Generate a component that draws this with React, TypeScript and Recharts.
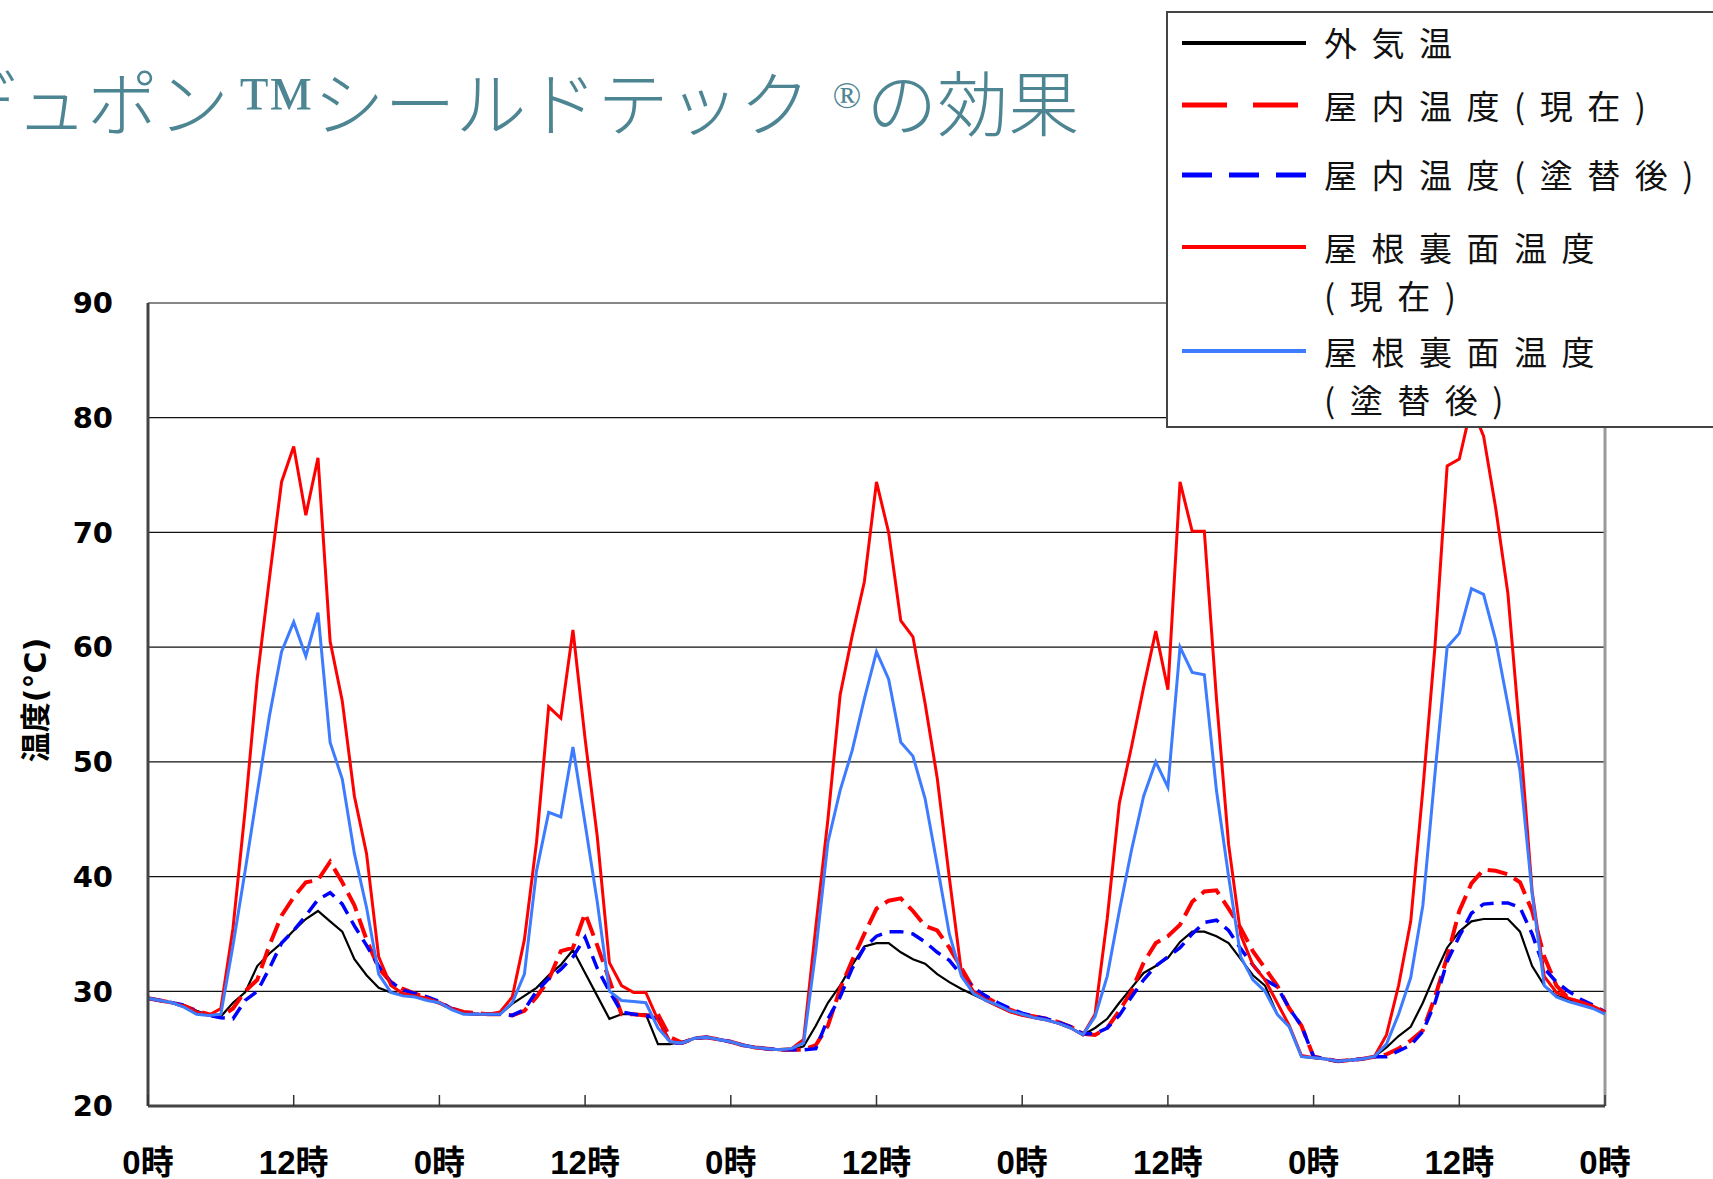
import { LineChart, Line, XAxis, YAxis, CartesianGrid, ReferenceLine } from "recharts";

// title pieces: the trade marks are set in a serif face like the slide
const TITLE_HEAD = "デュポン";
const TITLE_TM = "™";
const TITLE_MID = "シールドテック";
const TITLE_R = "®";
const TITLE_TAIL = "の効果";

// hourly readings over 5 days (0h .. 120h)
const HOURS = Array.from({ length: 121 }, (_, i) => i);

const OUTSIDE = [
  29.4, 29.2, 29.0, 28.8, 28.3, 27.9, 27.8, 29.0, 29.9, 32.2, 33.3, 34.2, 35.3, 36.3, 37.0, 36.1, 35.2, 32.8, 31.4, 30.3,
  29.9, 29.7, 29.5, 29.3, 29.0, 28.5, 28.1, 28.0, 28.0, 28.0, 28.9, 29.6, 30.3, 31.4, 32.3, 33.6, 31.6, 29.6, 27.6, 28.0,
  28.0, 28.0, 25.4, 25.4, 25.6, 25.9, 26.0, 25.8, 25.6, 25.3, 25.1, 25.0, 24.9, 24.9, 25.2, 27.0, 29.0, 30.5, 32.3, 33.9,
  34.2, 34.2, 33.4, 32.8, 32.4, 31.5, 30.8, 30.2, 29.7, 29.2, 28.7, 28.2, 27.9, 27.7, 27.5, 27.2, 26.8, 26.2, 26.8, 27.6,
  29.0, 30.3, 31.6, 32.2, 32.9, 34.3, 35.2, 35.2, 34.8, 34.2, 32.8, 31.4, 30.5, 28.0, 26.9, 24.3, 24.2, 24.1, 23.9, 24.0,
  24.1, 24.3, 25.1, 26.1, 26.9, 29.0, 31.5, 33.8, 35.2, 36.1, 36.3, 36.3, 36.3, 35.2, 32.2, 30.5, 29.6, 29.3, 29.0, 28.7,
  28.2,
];

const INDOOR_NOW = [
  29.4, 29.2, 29.0, 28.7, 28.3, 28.0, 27.8, 28.5, 30.0, 31.0, 34.0, 36.6, 38.2, 39.5, 39.7, 41.3, 39.5, 37.5, 34.5, 32.0,
  30.8, 30.2, 29.8, 29.4, 29.0, 28.5, 28.2, 28.1, 28.0, 28.0, 27.9, 28.3, 29.5, 31.0, 33.5, 33.8, 36.8, 34.0, 31.0, 28.0,
  28.0, 27.9, 28.0, 26.0, 25.5, 25.9, 26.0, 25.8, 25.6, 25.3, 25.1, 25.0, 24.9, 24.9, 24.9, 25.3, 27.0, 30.2, 32.7, 35.0,
  37.2, 37.9, 38.1, 37.0, 35.7, 35.3, 33.8, 32.0, 30.2, 29.5, 28.9, 28.4, 28.0, 27.8, 27.6, 27.3, 26.9, 26.3, 26.2, 26.8,
  28.3, 30.0, 32.5, 34.2, 34.8, 35.8, 37.8, 38.7, 38.8, 37.2, 35.5, 33.5, 32.0, 30.5, 28.5, 27.0, 24.3, 24.1, 23.9, 24.0,
  24.1, 24.3, 24.5, 25.0, 25.7, 26.6, 29.5, 33.0, 37.0, 39.4, 40.6, 40.5, 40.2, 39.5, 37.0, 33.0, 30.5, 29.4, 29.0, 28.7,
  28.2,
];

const INDOOR_AFTER = [
  29.4, 29.2, 29.0, 28.8, 28.2, 27.9, 27.7, 27.6, 29.2, 30.0, 32.0, 34.2, 35.3, 36.6, 38.0, 38.6, 37.6, 35.7, 34.0, 32.2,
  30.8, 30.1, 29.8, 29.5, 29.1, 28.5, 28.1, 28.0, 28.0, 28.0, 27.9, 28.4, 30.0, 31.1, 31.9, 33.0, 34.7, 32.0, 30.0, 28.2,
  28.0, 27.9, 27.6, 25.5, 25.5, 25.9, 26.0, 25.8, 25.6, 25.3, 25.1, 25.0, 24.9, 24.9, 24.9, 25.0, 27.6, 29.5, 32.0, 33.8,
  34.8, 35.2, 35.2, 35.0, 34.3, 33.4, 32.7, 31.4, 30.3, 29.6, 29.0, 28.5, 28.1, 27.8, 27.6, 27.3, 26.9, 26.3, 26.3, 26.8,
  27.9, 29.5, 31.0, 32.2, 33.0, 33.8, 35.0, 36.0, 36.2, 35.3, 33.7, 32.3, 31.0, 30.4, 28.5, 27.0, 24.3, 24.1, 23.9, 24.0,
  24.1, 24.3, 24.3, 24.8, 25.3, 26.5, 29.0, 32.6, 34.8, 36.8, 37.6, 37.7, 37.7, 37.3, 35.0, 32.0, 30.8, 30.0, 29.3, 28.8,
  28.2,
];

const ROOF_NOW = [
  29.4, 29.2, 29.0, 28.7, 28.2, 27.9, 28.5, 35.5, 45.8, 57.3, 66.0, 74.4, 77.5, 71.5, 76.5, 60.5, 55.3, 47.0, 42.0, 33.0,
  30.5, 29.8, 29.6, 29.4, 29.0, 28.5, 28.1, 28.0, 28.0, 28.2, 29.5, 34.5, 43.0, 54.8, 53.8, 61.5, 52.0, 43.5, 32.5, 30.5,
  29.9, 29.9, 27.5, 25.6, 25.5, 25.9, 26.0, 25.8, 25.6, 25.3, 25.1, 25.0, 24.9, 25.0, 25.8, 35.6, 45.0, 55.8, 61.0, 65.7,
  74.4, 70.0, 62.3, 60.9, 55.1, 48.6, 39.9, 31.6, 30.0, 29.2, 28.7, 28.2, 27.9, 27.7, 27.5, 27.2, 26.8, 26.2, 28.0, 36.3,
  46.4, 51.3, 56.5, 61.4, 56.3, 74.4, 70.1, 70.1, 55.5, 42.8, 34.9, 32.3, 31.0, 29.0, 27.0, 24.4, 24.2, 24.1, 23.9, 24.0,
  24.1, 24.3, 26.2, 30.5, 36.1, 47.6, 60.1, 75.8, 76.4, 81.0, 78.4, 72.1, 64.7, 52.3, 38.7, 31.3, 29.9, 29.4, 29.1, 28.7,
  28.2,
];

const ROOF_AFTER = [
  29.4, 29.2, 29.0, 28.6, 28.0, 27.9, 28.0, 34.0, 40.5, 47.3, 54.0, 59.6, 62.2, 59.2, 63.0, 51.7, 48.5, 42.0, 37.3, 31.5,
  29.9, 29.6, 29.5, 29.2, 29.0, 28.4, 28.0, 28.0, 28.0, 28.0, 29.0, 31.5, 40.5, 45.6, 45.2, 51.3, 44.6, 37.8, 30.0, 29.2,
  29.1, 29.0, 26.8, 25.6, 25.5, 25.9, 26.0, 25.8, 25.6, 25.3, 25.1, 25.0, 24.9, 25.0, 25.5, 33.5, 43.0, 47.5, 51.0, 55.5,
  59.6, 57.2, 51.7, 50.5, 46.8, 41.0, 35.0, 31.3, 29.8, 29.2, 28.8, 28.3, 28.0, 27.7, 27.5, 27.2, 26.8, 26.2, 27.8, 31.3,
  37.0, 42.3, 47.0, 50.0, 47.8, 60.0, 57.8, 57.6, 47.5, 40.0, 33.0, 31.0, 30.0, 28.0, 26.9, 24.3, 24.2, 24.1, 23.9, 24.0,
  24.1, 24.3, 25.4, 28.0, 31.2, 37.5, 49.0, 60.0, 61.2, 65.1, 64.6, 60.6, 55.0, 49.2, 38.5, 30.5, 29.5, 29.1, 28.8, 28.5,
  28.0,
];

const Y_TICKS = [20, 30, 40, 50, 60, 70, 80, 90];
const X_TICKS = [0, 12, 24, 36, 48, 60, 72, 84, 96, 108, 120];
const X_TICK_LABELS = ["0時", "12時", "0時", "12時", "0時", "12時", "0時", "12時", "0時", "12時", "0時"];

const SERIES = [
  { key: "outside", name: ["外気温"], color: "#000000", width: 2.2, dash: undefined, legendDash: undefined },
  { key: "indoorNow", name: ["屋内温度(現在)"], color: "#ff0000", width: 4, dash: "20 8", legendDash: "45 26" },
  { key: "indoorAfter", name: ["屋内温度(塗替後)"], color: "#0000ff", width: 3.5, dash: "14 8", legendDash: "30 17" },
  { key: "roofNow", name: ["屋根裏面温度", "(現在)"], color: "#ff0000", width: 3, dash: undefined, legendDash: undefined },
  { key: "roofAfter", name: ["屋根裏面温度", "(塗替後)"], color: "#3d7bff", width: 3, dash: undefined, legendDash: undefined },
];

const rows = HOURS.map((h, i) => ({
  h,
  outside: OUTSIDE[i],
  indoorNow: INDOOR_NOW[i],
  indoorAfter: INDOOR_AFTER[i],
  roofNow: ROOF_NOW[i],
  roofAfter: ROOF_AFTER[i],
}));

const NUM_FONT = '"DejaVu Sans", "Noto Sans CJK JP", sans-serif';
const JP_FONT = '"Noto Sans CJK JP", sans-serif';
const SERIF = '"Liberation Serif", serif';

function HourTick(props: any) {
  const { x, y, payload } = props;
  const label = X_TICK_LABELS[X_TICKS.indexOf(payload.value)];
  return (
    <g>
      <line x1={x} x2={x} y1={y} y2={y - 11} stroke="#333" strokeWidth={1.5} />
      <text
        x={x}
        y={y + 56}
        textAnchor="middle"
        dominantBaseline="central"
        fontSize={33}
        fontWeight={700}
        fontFamily='"Liberation Sans", "Noto Sans CJK JP", sans-serif'
        fill="#000"
      >
        {label}
      </text>
    </g>
  );
}

// legend rows: sample line y and text centre y, in page pixels
const LEGEND_SAMPLE_Y = [43, 105, 175, 247, 351];
const LEGEND_TEXT_Y = [[44], [106.5], [176], [248.5, 296.5], [352.5, 400.5]];

function ChartLegend() {
  const boxLeft = 1166;
  const boxTop = 11;
  return (
    <div
      style={{
        position: "absolute",
        left: boxLeft,
        top: boxTop,
        width: 600,
        height: 417,
        background: "#fff",
        border: "2px solid #444",
        boxSizing: "border-box",
      }}
    >
      <svg width={600} height={417} style={{ position: "absolute", left: -2, top: -2 }}>
        {SERIES.map((s, i) => (
          <line
            key={s.key}
            x1={1182 - boxLeft}
            x2={1306 - boxLeft}
            y1={LEGEND_SAMPLE_Y[i] - boxTop}
            y2={LEGEND_SAMPLE_Y[i] - boxTop}
            stroke={s.color}
            strokeWidth={s.dash ? 5 : 4}
            strokeDasharray={s.legendDash}
          />
        ))}
      </svg>
      {SERIES.map((s, i) =>
        s.name.map((line, j) => (
          <div
            key={s.key + j}
            style={{
              position: "absolute",
              left: 1324 - boxLeft - 2,
              top: LEGEND_TEXT_Y[i][j] - boxTop - 2 - 18,
              fontSize: 33,
              lineHeight: "33px",
              letterSpacing: 14.5,
              fontFamily: JP_FONT,
              color: "#111",
              whiteSpace: "nowrap",
            }}
          >
            {line}
          </div>
        ))
      )}
    </div>
  );
}

export default function App() {
  return (
    <div
      style={{
        position: "absolute",
        left: 0,
        top: 0,
        width: 1713,
        height: 1179,
        background: "#fff",
        overflow: "hidden",
      }}
    >
      <div
        style={{
          position: "absolute",
          left: -55,
          top: 60,
          fontSize: 71,
          lineHeight: "71px",
          color: "#4d8593",
          fontFamily: JP_FONT,
          fontWeight: 300,
          whiteSpace: "nowrap",
        }}
      >
        {TITLE_HEAD}
        <span style={{ fontFamily: SERIF, fontSize: 78, marginLeft: 8 }}>{TITLE_TM}</span>
        {TITLE_MID}
        <span style={{ fontFamily: SERIF, fontSize: 38, verticalAlign: 22, marginLeft: 22, marginRight: 5 }}>
          {TITLE_R}
        </span>
        {TITLE_TAIL}
      </div>

      <LineChart width={1713} height={1179} data={rows} margin={{ top: 303, right: 108, bottom: 13, left: 48 }}>
        <CartesianGrid horizontal vertical={false} stroke="#111" strokeWidth={1.2} />
        <XAxis
          dataKey="h"
          type="number"
          domain={[0, 120]}
          ticks={X_TICKS}
          interval={0}
          height={60}
          axisLine={{ stroke: "#444", strokeWidth: 3 }}
          tickLine={false}
          tickSize={0}
          tickMargin={0}
          tick={(p: any) => <HourTick {...p} />}
        />
        <YAxis
          type="number"
          domain={[20, 90]}
          ticks={Y_TICKS}
          interval={0}
          width={100}
          axisLine={{ stroke: "#444", strokeWidth: 3 }}
          tickLine={false}
          tickSize={0}
          tickMargin={35}
          tick={{ fill: "#000", fontSize: 29, fontWeight: 700, fontFamily: NUM_FONT }}
        />
        <ReferenceLine x={120} stroke="#9a9a9a" strokeWidth={3} />
        {SERIES.map((s) => (
          <Line
            key={s.key}
            type="linear"
            dataKey={s.key}
            stroke={s.color}
            strokeWidth={s.width}
            strokeDasharray={s.dash}
            dot={false}
            activeDot={false}
            isAnimationActive={false}
          />
        ))}
      </LineChart>

      <div
        style={{
          position: "absolute",
          left: 33,
          top: 700,
          transform: "translate(-50%, -50%) rotate(-90deg)",
          fontSize: 30,
          fontWeight: 700,
          fontFamily: NUM_FONT,
          whiteSpace: "nowrap",
          color: "#000",
        }}
      >
        温度(°C)
      </div>

      <ChartLegend />
    </div>
  );
}
